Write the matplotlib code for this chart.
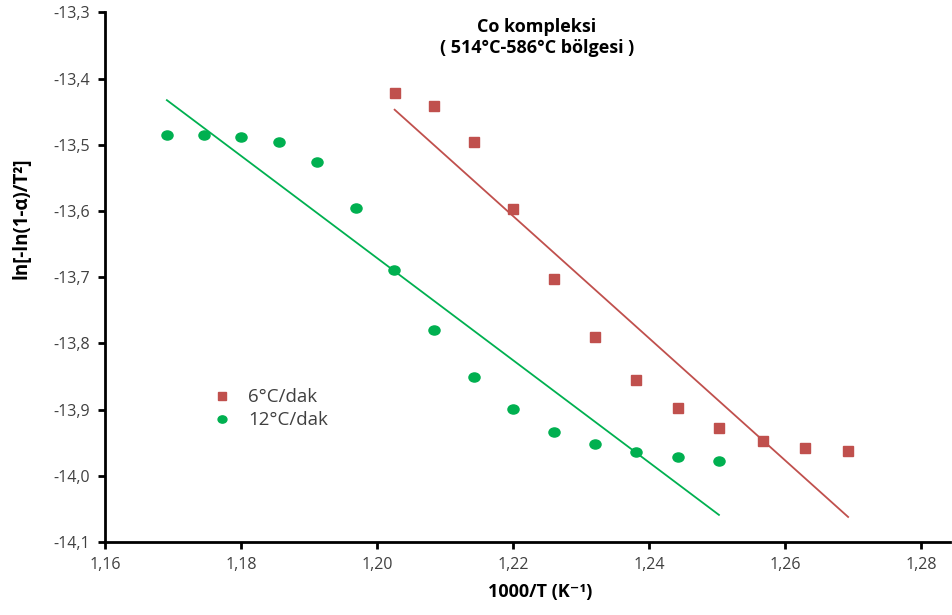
import numpy as np
import matplotlib
matplotlib.use("Agg")
import matplotlib.pyplot as plt
from matplotlib.ticker import FuncFormatter, MultipleLocator
from matplotlib.path import Path
from matplotlib.transforms import Affine2D

# 1000/T values (K^-1) and ln[-ln(1-a)/T^2] for each heating rate
x_6 = [1.2026, 1.2084, 1.2143, 1.2200, 1.2260, 1.2320, 1.2381, 1.2443,
       1.2503, 1.2568, 1.2629, 1.2693]
y_6 = [-13.4216, -13.441, -13.4956, -13.597, -13.703, -13.790, -13.855,
       -13.897, -13.928, -13.947, -13.958, -13.962]

x_12 = [1.1691, 1.1746, 1.1800, 1.1856, 1.1912, 1.1969, 1.2025, 1.2084,
        1.2143, 1.2200, 1.2260, 1.2320, 1.2381, 1.2443, 1.2503]
y_12 = [-13.485, -13.485, -13.488, -13.496, -13.526, -13.595, -13.689,
        -13.780, -13.851, -13.899, -13.934, -13.952, -13.964, -13.971,
        -13.977]

labels = ["6°C/dak", "12°C/dak"]
title_lines = ["Co kompleksi", "( 514°C-586°C bölgesi )"]

red = "#C0504D"
green = "#00B050"

plt.rcParams["font.family"] = ["Open Sans", "DejaVu Sans"]

# slightly flattened dot marker
ellipse = Path.unit_circle().transformed(Affine2D().scale(1.0, 0.82))

fig = plt.figure(figsize=(9.52, 6.15), dpi=100)
ax = fig.add_axes([0.1103, 0.1187, 0.8877, 0.861])

ax.plot(x_6, y_6, linestyle="none", marker="s", markersize=7.3,
        color=red, label=labels[0])
ax.plot(x_12, y_12, linestyle="none", marker=ellipse, markersize=8.0,
        color=green, label=labels[1])

# linear trend lines over each data range
for xs, ys, c in [(x_6, y_6, red), (x_12, y_12, green)]:
    k, b = np.polyfit(xs, ys, 1)
    xx = np.array([min(xs), max(xs)])
    ax.plot(xx, k * xx + b, color=c, linewidth=1.3)

ax.set_xlim(1.16, 1.2843)
ax.set_ylim(-14.1, -13.3)
ax.xaxis.set_major_locator(MultipleLocator(0.02))
ax.yaxis.set_major_locator(MultipleLocator(0.1))
ax.xaxis.set_major_formatter(FuncFormatter(lambda v, p: f"{v:.2f}".replace(".", ",")))
ax.yaxis.set_major_formatter(FuncFormatter(lambda v, p: f"{v:.1f}".replace(".", ",")))

for s in ["top", "right"]:
    ax.spines[s].set_visible(False)
for s in ["left", "bottom"]:
    ax.spines[s].set_linewidth(2)
ax.tick_params(axis="both", direction="out", length=5, width=2,
               labelsize=11.5, colors="black", labelcolor="#404040", pad=6)

ax.set_xlabel("1000/T (K⁻¹)", fontsize=13, fontweight="bold")
ax.xaxis.set_label_coords(0.5146, -0.078)
ax.set_ylabel("ln[-ln(1-α)/T²]", fontsize=13.5, fontweight="bold")
ax.yaxis.set_label_coords(-0.087, 0.612)

fig.text(537 / 952, 1 - 27 / 615, title_lines[0], ha="center", va="center",
         fontsize=13, fontweight="bold")
fig.text(537 / 952, 1 - 48 / 615, title_lines[1], ha="center", va="center",
         fontsize=13, fontweight="bold")

ax.legend(loc="upper left", bbox_to_anchor=(0.2233, 0.369), bbox_transform=fig.transFigure,
          frameon=False, fontsize=13.5, handlelength=1.0, handletextpad=0.9,
          labelspacing=0.28, borderpad=0, borderaxespad=0, markerscale=0.8,
          labelcolor="#404040")

fig.savefig("out.png", dpi=100)
